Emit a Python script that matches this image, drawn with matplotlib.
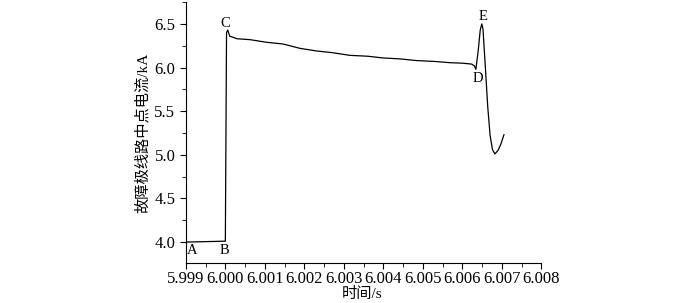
import numpy as np
import matplotlib.pyplot as plt
from matplotlib.ticker import MultipleLocator

plt.rcParams['font.family'] = ['Liberation Serif', 'Noto Sans CJK SC']

# fault pole line midpoint current
t = [5.99900, 5.99950, 5.99997, 6.00000, 6.00003, 6.00006, 6.00011, 6.00030,
     6.00062, 6.00104, 6.00146, 6.00189, 6.00231, 6.00272, 6.00315, 6.00360,
     6.00399, 6.00440, 6.00484, 6.00530, 6.00568, 6.00600, 6.00623, 6.00630,
     6.00634, 6.00640, 6.00645, 6.00649, 6.00652, 6.00658, 6.00664, 6.00670,
     6.00676, 6.00682, 6.00690, 6.00697, 6.00705]
i_ka = [4.00, 4.005, 4.01, 4.01, 6.40, 6.43, 6.36, 6.33,
        6.32, 6.29, 6.27, 6.22, 6.19, 6.17, 6.14, 6.13,
        6.11, 6.10, 6.08, 6.07, 6.056, 6.05, 6.04, 6.02,
        5.98, 6.20, 6.43, 6.50, 6.44, 6.00, 5.55, 5.22,
        5.06, 5.01, 5.05, 5.12, 5.23]

points = {'A': (5.99917, 3.90), 'B': (5.99999, 3.90), 'C': (5.99999, 6.51),
          'D': (6.00639, 5.87), 'E': (6.00651, 6.59)}

fig = plt.figure(figsize=(6.96, 3.03), dpi=100)
ax = fig.add_axes([0.267, 0.132, 0.511, 0.861])

ax.plot(t, i_ka, color='black', lw=0.9)

for name, (x, y) in points.items():
    ax.text(x, y, name, fontsize=10.5, ha='center', va='center')

ax.set_xlim(5.999, 6.008)
ax.set_ylim(3.76, 6.75)
ax.xaxis.set_major_locator(MultipleLocator(0.001))
ax.xaxis.set_minor_locator(MultipleLocator(0.0005))
ax.yaxis.set_major_locator(MultipleLocator(0.5))
ax.yaxis.set_minor_locator(MultipleLocator(0.25))
ax.set_xticklabels([f'{v:.3f}' for v in ax.get_xticks()])
ax.set_yticklabels([f'{v:.1f}' for v in ax.get_yticks()])

ax.spines['top'].set_visible(False)
ax.spines['right'].set_visible(False)
ax.tick_params(which='major', direction='out', length=4, labelsize=12)
ax.tick_params(axis='x', which='major', pad=2)
ax.tick_params(which='minor', direction='out', length=3)

ax.set_ylabel('故障极线路中点电流/kA', fontsize=11, labelpad=3)
fig.text(0.52, 0.03, '时间/s', fontsize=11, ha='center', va='center')

fig.savefig('out.png', dpi=100)
